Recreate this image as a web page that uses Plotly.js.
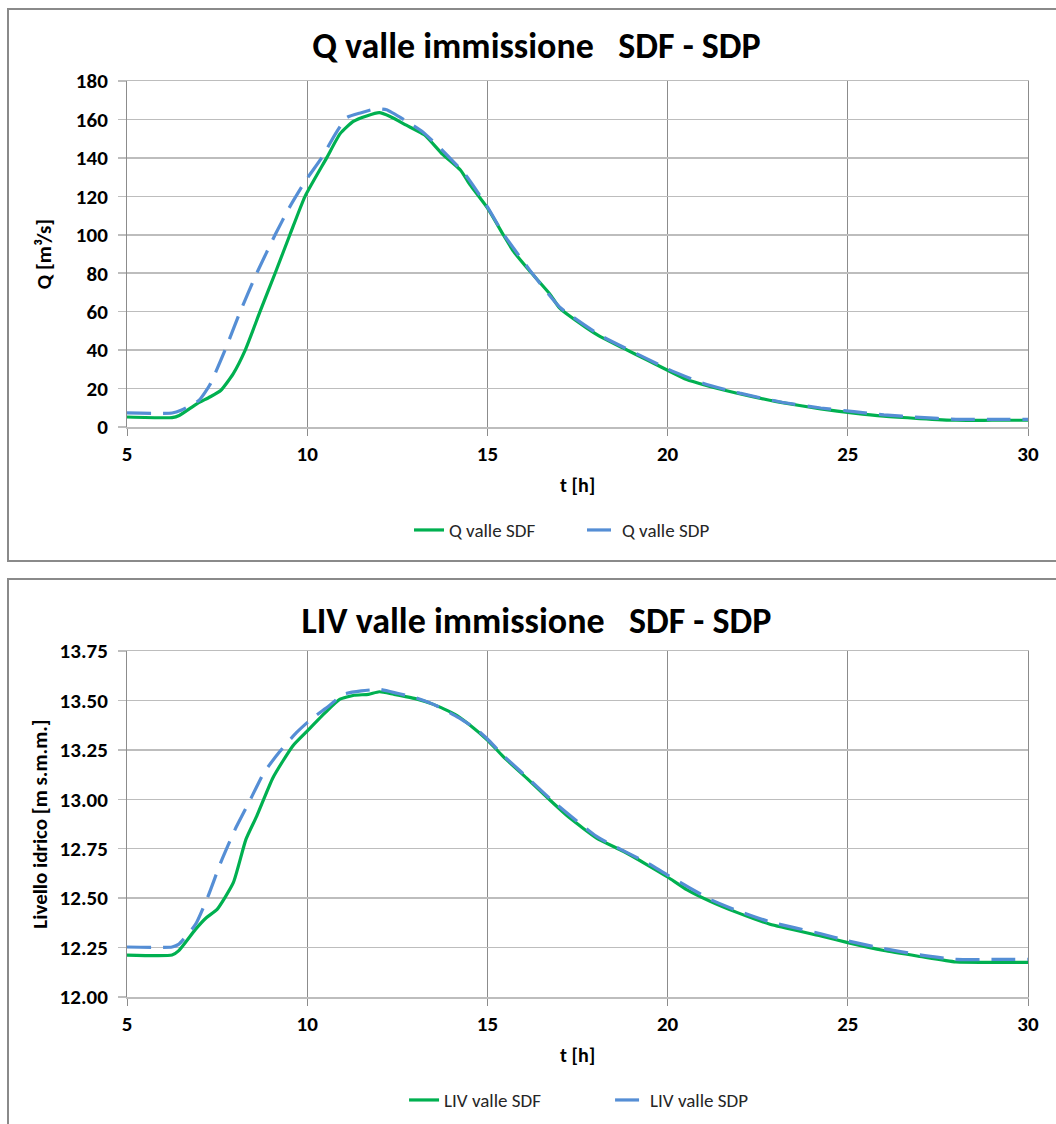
<!DOCTYPE html>
<html>
<head>
<meta charset="utf-8">
<script src="https://cdn.plot.ly/plotly-3.0.1.min.js"></script>
<style>
  html, body { margin: 0; padding: 0; width: 1056px; height: 1124px; overflow: hidden; background: #fff; }
  .plot { position: absolute; left: 0; width: 1056px; height: 570px; }
  .frame { position: absolute; left: 7px; width: 1062px; border: 2px solid #8a8a8a; box-sizing: border-box; pointer-events: none; z-index: 10; }
</style>
</head>
<body>
<div id="chartQ" class="plot" style="top:0px;"></div>
<div id="chartL" class="plot" style="top:570px;"></div>
<div class="frame" style="top:8px; height:554px;"></div>
<div class="frame" style="top:578px; height:560px;"></div>
<script>
// ---- Data: discharge (top chart) ----
const tQ_SDF = [5, 6.25, 6.45, 6.95, 7.3, 7.6, 7.95, 8.28, 8.69, 9.11, 9.52, 9.94, 10.54, 10.91, 11.28, 11.65, 12, 12.3, 12.75, 13.25, 13.75, 14.25, 14.52, 15, 15.44, 15.72, 16.18, 16.74, 17, 17.75, 18.12, 18.77, 19.42, 20, 20.53, 21, 21.9, 22.83, 23.14, 24.25, 25.17, 26, 27, 28, 29, 30];
const Q_SDF  = [5.2, 4.9, 6, 12.2, 15.6, 19, 27.8, 40, 60, 80, 100, 120, 140, 152.5, 159, 161.8, 163.5, 161.5, 157, 152, 142, 133.7, 126, 114, 100, 91.5, 81, 69, 62, 51.6, 47.2, 41, 35, 29.5, 24.7, 22, 17.7, 13.9, 12.8, 9.4, 7.2, 5.6, 4.4, 3.5, 3.5, 3.5];

const tQ_SDP = [5, 6.25, 6.5, 7, 7.3, 7.72, 8.14, 8.6, 9.11, 9.5, 9.95, 10.4, 10.8, 11.1, 11.5, 11.9, 12.2, 12.7, 13.2, 13.8, 14.4, 15, 15.44, 16.18, 17, 18.12, 19.42, 20, 21, 22, 23.14, 24.25, 25.17, 26, 27, 28, 29, 30];
const Q_SDP  = [7.3, 7.3, 8.7, 13.9, 22, 40, 60, 80, 100, 114, 128, 140, 153, 161, 163.5, 165.5, 165, 159.7, 153.6, 143, 131, 114.5, 100.5, 81.5, 62.5, 47.8, 35.6, 30.2, 22.6, 17.6, 13, 9.9, 8, 6.3, 5, 4, 4, 4];

// ---- Data: water level (bottom chart) ----
const tL_SDF = [5, 6.25, 6.43, 6.9, 7.2, 7.5, 7.95, 8.3, 8.6, 9.05, 9.6, 10, 10.5, 10.9, 11.3, 11.7, 12, 12.4, 13, 13.5, 14.1, 14.52, 15, 15.44, 16.09, 16.83, 17.29, 18.03, 18.77, 19.42, 20, 20.53, 21.18, 21.92, 22.84, 24.25, 25, 26, 27, 28, 29, 30];
const L_SDF  = [12.212, 12.212, 12.233, 12.342, 12.401, 12.443, 12.578, 12.797, 12.915, 13.109, 13.27, 13.345, 13.438, 13.505, 13.526, 13.531, 13.544, 13.531, 13.509, 13.48, 13.43, 13.375, 13.30, 13.216, 13.107, 12.98, 12.905, 12.804, 12.737, 12.67, 12.607, 12.543, 12.484, 12.428, 12.368, 12.309, 12.275, 12.235, 12.205, 12.177, 12.175, 12.175];

const tL_SDP = [5, 6.25, 6.43, 6.9, 7.25, 7.6, 8, 8.4, 8.8, 9.25, 9.7, 10.1, 10.6, 11, 11.5, 12, 12.5, 13, 13.6, 14.2, 14.7, 15, 15.44, 16.09, 16.83, 18.03, 19.42, 20, 21.18, 21.92, 22.84, 24.25, 25, 26, 27, 28, 29, 30];
const L_SDP  = [12.253, 12.253, 12.266, 12.367, 12.51, 12.68, 12.848, 12.99, 13.135, 13.244, 13.337, 13.404, 13.472, 13.531, 13.548, 13.556, 13.536, 13.514, 13.472, 13.413, 13.354, 13.305, 13.222, 13.113, 12.988, 12.812, 12.68, 12.617, 12.494, 12.438, 12.38, 12.32, 12.284, 12.245, 12.213, 12.19, 12.19, 12.19];

// ---- Labels ----
const titleQ = "Q valle immissione\u00A0\u00A0\u00A0SDF - SDP";
const titleL = "LIV valle immissione\u00A0\u00A0\u00A0SDF - SDP";
const nameQ_SDF = "Q valle SDF", nameQ_SDP = "Q valle SDP";
const nameL_SDF = "LIV valle SDF", nameL_SDP = "LIV valle SDP";
const xTitle = "t [h]";
const yTitleQ = "Q [m\u00B3/s]";
const yTitleL = "Livello idrico [m s.m.m.]";

const FONT = "Carlito, Calibri, Lato, 'Liberation Sans', sans-serif";
const GREEN = "#00B050";
const BLUE = "#558ED5";
const VGRID = "#8c8c8c";
const HGRID = "#bdbdbd";

function traces(tA, yA, nA, tB, yB, nB) {
  return [
    { x: tA, y: yA, name: nA, type: "scatter", mode: "lines",
      line: { color: GREEN, width: 3.2, shape: "spline", smoothing: 0.5 } },
    { x: tB, y: yB, name: nB, type: "scatter", mode: "lines",
      line: { color: BLUE, width: 3.2, dash: "24px,12px", shape: "spline", smoothing: 0.5 } }
  ];
}

function layout(title, titleY, yTitle, yRange, yDtick, yFmt, yStandoff, legX, legEntry) {
  return {
    width: 1056, height: 570,
    margin: { l: 127, r: 28, t: 81, b: 143 },
    paper_bgcolor: "rgba(0,0,0,0)", plot_bgcolor: "#fff",
    showlegend: true,
    title: { text: title, x: 0.508, xref: "container", xanchor: "center",
             y: titleY, yref: "container", yanchor: "middle",
             font: { family: FONT, size: 36, color: "#000", weight: "bold" } },
    xaxis: {
      range: [5, 30], dtick: 5, tick0: 5,
      showgrid: true, gridcolor: VGRID, gridwidth: 1,
      showline: true, linecolor: HGRID, linewidth: 1.5, mirror: true,
      ticks: "outside", ticklen: 7, tickcolor: VGRID, tickwidth: 1,
      ticklabelstandoff: 0,
      zeroline: false, automargin: false,
      tickfont: { family: FONT, size: 21, color: "#000", weight: "bold" }
    },
    yaxis: {
      range: yRange, dtick: yDtick, tickformat: yFmt,
      showgrid: true, gridcolor: HGRID, gridwidth: 1.5,
      showline: true, linecolor: VGRID, linewidth: 1, mirror: true,
      ticks: "outside", ticklen: 8, tickcolor: HGRID, tickwidth: 1.5,
      ticklabelstandoff: 6,
      zeroline: false, automargin: false,
      tickfont: { family: FONT, size: 21, color: "#000", weight: "bold" },
      title: { text: yTitle, standoff: yStandoff, font: { family: FONT, size: 21, color: "#000", weight: "bold" } }
    },
    annotations: [{
      text: xTitle, xref: "paper", yref: "paper", x: 0.5, y: -0.1676,
      xanchor: "center", yanchor: "middle", showarrow: false,
      font: { family: FONT, size: 20, color: "#000", weight: "bold" }
    }],
    legend: {
      orientation: "h", x: legX, xanchor: "left", y: -0.298, yanchor: "middle",
      entrywidth: legEntry, entrywidthmode: "pixels",
      font: { family: FONT, size: 19, color: "#262626" }, bgcolor: "rgba(0,0,0,0)"
    }
  };
}

const cfg = { staticPlot: true, displayModeBar: false };

Plotly.newPlot("chartQ",
  traces(tQ_SDF, Q_SDF, nameQ_SDF, tQ_SDP, Q_SDP, nameQ_SDP),
  layout(titleQ, 1 - 45 / 570, yTitleQ, [0, 180], 20, "d", 18, 0.313, 128), cfg);

Plotly.newPlot("chartL",
  traces(tL_SDF, L_SDF, nameL_SDF, tL_SDP, L_SDP, nameL_SDP),
  layout(titleL, 1 - 50 / 570, yTitleL, [12, 13.75], 0.25, ".2f", 6, 0.3075, 161), cfg);
</script>
</body>
</html>
